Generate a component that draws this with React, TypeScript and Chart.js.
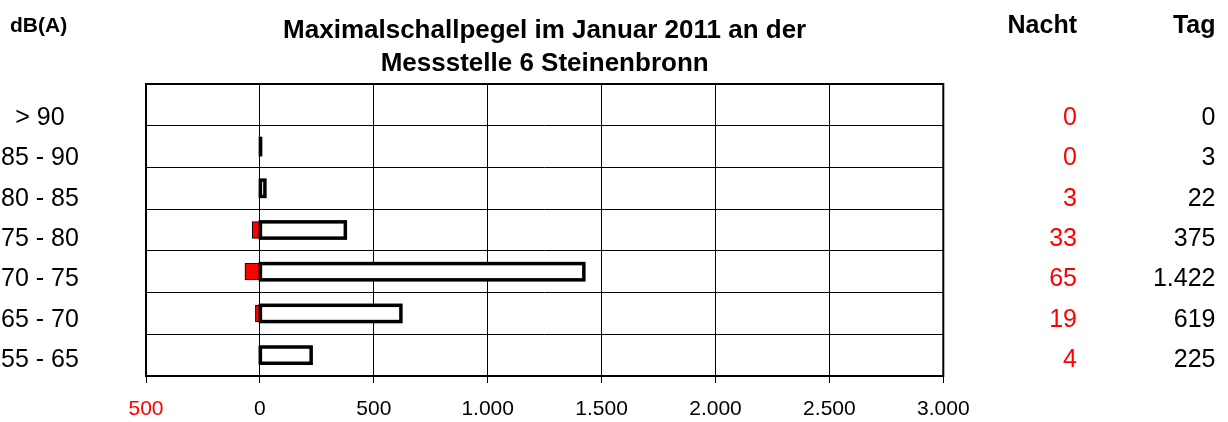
import React, { useEffect, useRef } from 'react';
import { Chart, registerables } from 'chart.js';

Chart.register(...registerables);

// ---- data ----
const categories = ['> 90', '85 - 90', '80 - 85', '75 - 80', '70 - 75', '65 - 70', '55 - 65'];
const nacht = [0, 0, 3, 33, 65, 19, 4];
const tag = [0, 3, 22, 375, 1422, 619, 225];
const xMin = -500;
const xMax = 3000;
const xStep = 500;
const titleLines = ['Maximalschallpegel im Januar 2011 an der', 'Messstelle 6 Steinenbronn'];
const unitLabel = 'dB(A)';
const nachtHeader = 'Nacht';
const tagHeader = 'Tag';

const FONT = '"Liberation Sans", Arial, Helvetica, sans-serif';
const RED = '#ff0000';

const fmt = (v: number) => String(v).replace(/\B(?=(\d{3})+(?!\d))/g, '.');

// layout constants for the text columns
const LABEL_X = 40;
const NACHT_X = 1077;
const TAG_X = 1215.5;
const ROW_BASE = 124.8;
const ROW_STEP = 40.4;
const TAG_BORDER = 3.5;

// Excel-like outline: border centred on the bar's edges (drawn from the bar elements' geometry)
const tagOutlinePlugin = {
  id: 'tagOutline',
  afterDatasetsDraw(chart: any) {
    const { ctx } = chart;
    const meta = chart.getDatasetMeta(0);
    ctx.save();
    ctx.strokeStyle = '#000';
    ctx.lineWidth = TAG_BORDER;
    ctx.lineJoin = 'miter';
    meta.data.forEach((el: any, i: number) => {
      const raw = chart.data.datasets[0].data[i];
      if (raw === null || raw === undefined) return;
      const { x, y, base, height } = el.getProps(['x', 'y', 'base', 'height'], true);
      const left = Math.min(x, base);
      const w = Math.abs(x - base);
      ctx.strokeRect(left, y - height / 2, w, height);
    });
    ctx.restore();
  },
};

const textPlugin = {
  id: 'sideTexts',
  afterDraw(chart: any) {
    const { ctx, chartArea } = chart;
    ctx.save();
    // plot frame
    ctx.strokeStyle = '#000';
    ctx.lineWidth = 2;
    ctx.strokeRect(
      chartArea.left,
      chartArea.top,
      chartArea.right - chartArea.left,
      chartArea.bottom - chartArea.top
    );
    // title
    ctx.fillStyle = '#000';
    ctx.textBaseline = 'alphabetic';
    ctx.font = `bold 26px ${FONT}`;
    ctx.textAlign = 'center';
    const cx = (chartArea.left + chartArea.right) / 2;
    titleLines.forEach((t, i) => ctx.fillText(t, cx, 38.3 + i * 32.4));
    // unit
    ctx.font = `bold 21px ${FONT}`;
    ctx.textAlign = 'left';
    ctx.fillText(unitLabel, 10, 32);
    // headers
    ctx.font = `bold 25px ${FONT}`;
    ctx.textAlign = 'right';
    ctx.fillText(nachtHeader, NACHT_X, 33.3);
    ctx.fillText(tagHeader, TAG_X, 33.3);
    // rows
    ctx.font = `25px ${FONT}`;
    categories.forEach((c, i) => {
      const y = ROW_BASE + i * ROW_STEP;
      ctx.textAlign = 'center';
      ctx.fillStyle = '#000';
      ctx.fillText(c, LABEL_X, y);
      ctx.textAlign = 'right';
      ctx.fillStyle = RED;
      ctx.fillText(fmt(nacht[i]), NACHT_X, y);
      ctx.fillStyle = '#000';
      ctx.fillText(fmt(tag[i]), TAG_X, y);
    });
    ctx.restore();
  },
};

export default function App() {
  const canvasRef = useRef<HTMLCanvasElement | null>(null);

  useEffect(() => {
    if (!canvasRef.current) return;
    Chart.defaults.font.family = FONT;
    const chart = new Chart(canvasRef.current, {
      type: 'bar',
      data: {
        labels: categories,
        datasets: [
          {
            label: tagHeader,
            data: tag.map((v) => (v === 0 ? null : v)),
            backgroundColor: '#ffffff',
            borderWidth: 0,
            inflateAmount: 0,
            grouped: false,
            barPercentage: 0.39,
            categoryPercentage: 1,
          },
          {
            label: nachtHeader,
            data: nacht.map((v) => (v === 0 ? null : -v)),
            backgroundColor: RED,
            borderColor: '#000000',
            borderWidth: 1,
            borderSkipped: false,
            inflateAmount: 0.5,
            grouped: false,
            barPercentage: 0.39,
            categoryPercentage: 1,
          },
        ],
      } as any,
      options: {
        indexAxis: 'y',
        responsive: false,
        animation: false,
        layout: { padding: { left: 146, right: 284.7, top: 84, bottom: 0 } },
        plugins: {
          legend: { display: false },
          tooltip: { enabled: false },
          title: { display: false },
        },
        scales: {
          x: {
            type: 'linear',
            min: xMin,
            max: xMax,
            ticks: {
              stepSize: xStep,
              padding: 13.6,
              maxRotation: 0,
              autoSkip: false,
              font: { family: FONT, size: 21 },
              color: (c: any) => (c.tick && c.tick.value < 0 ? RED : '#000'),
              callback: (v: any) => fmt(Math.abs(Number(v))),
            },
            grid: { color: '#000', lineWidth: 1, tickLength: 7, drawTicks: true },
            border: { display: false },
            afterFit: (s: any) => {
              s.height = 46;
            },
          },
          y: {
            type: 'category',
            offset: true,
            ticks: { display: false },
            grid: { color: '#000', lineWidth: 1, drawTicks: false, offset: true },
            border: { display: false },
            afterFit: (s: any) => {
              s.width = 0;
            },
          },
        },
      } as any,
      plugins: [tagOutlinePlugin, textPlugin],
    });
    return () => chart.destroy();
  }, []);

  return (
    <div style={{ position: 'absolute', left: 0, top: 0, width: 1228, height: 422, background: '#fff' }}>
      <canvas ref={canvasRef} width={1228} height={422} style={{ display: 'block' }} />
    </div>
  );
}
